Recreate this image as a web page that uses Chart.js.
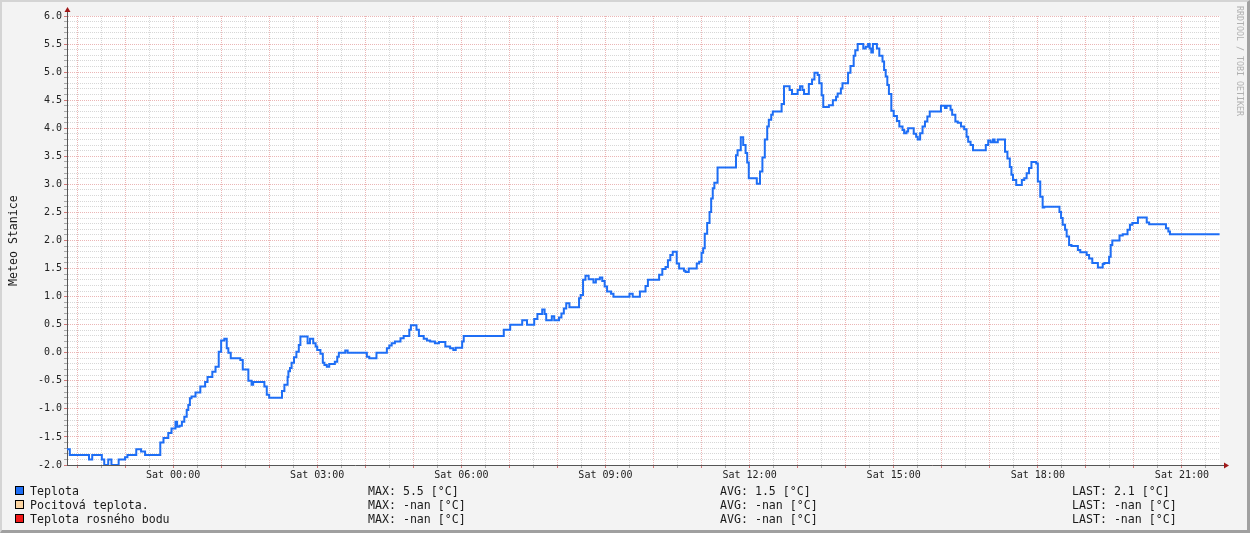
<!DOCTYPE html>
<html>
<head>
<meta charset="utf-8">
<script src="https://cdn.jsdelivr.net/npm/chart.js@4/dist/chart.umd.min.js"></script>
<style>
  html, body { margin: 0; padding: 0; }
  #frame {
    position: relative; width: 1250px; height: 533px; box-sizing: border-box;
    background: #f3f3f3;
    border-top: 2px solid #d4d4d4; border-left: 2px solid #d4d4d4;
    border-right: 3px solid #a0a0a0; border-bottom: 3px solid #a0a0a0;
    font-family: 'DejaVu Sans Mono', monospace; color: #1a1a1a;
  }
  #chart { position: absolute; left: -2px; top: -2px; }
  .ytitle {
    position: absolute; left: -34px; top: 232px; width: 90px; text-align: center;
    font-size: 11.6px; transform: rotate(-90deg); white-space: nowrap;
  }
  .wm {
    position: absolute; left: 1233px; top: 4px; writing-mode: vertical-rl;
    font-size: 8.3px; color: #b0b0b0; white-space: nowrap;
  }
  .lg { position: absolute; font-size: 11.6px; line-height: 14px; white-space: pre; }
  .sw { position: absolute; width: 7px; height: 7px; border: 1px solid #000; }
</style>
</head>
<body>
<div id="frame">
  <canvas id="chart" width="1250" height="533"></canvas>
  <div class="ytitle">Meteo Stanice</div>
  <div class="wm">RRDTOOL / TOBI OETIKER</div>
  <div id="legend"></div>
</div>
<script>
// cas v minutach od Sat 00:00 (zaporne = patek vecer)
const minuty = [
  -133, -129, -105, -101, -89, -86, -81, -77, -68, -60, -57, -46, -40, -35, -16, -12, -6, -2,
  3, 5, 8, 11, 14, 17, 19, 21, 23, 28, 34, 40, 43, 49, 53, 57, 60, 64, 67, 69, 72, 84, 87,
  94, 98, 100, 114, 117, 120, 136, 139, 143, 144, 146, 148, 151, 154, 157, 159, 168, 171,
  175, 178, 180, 184, 187, 189, 192, 195, 202, 205, 207, 215, 218, 242, 245, 254, 267, 270,
  273, 277, 284, 288, 295, 297, 304, 307, 313, 317, 321, 327, 332, 340, 346, 350, 353, 361,
  363, 413, 421, 436, 442, 451, 455, 461, 464, 466, 473, 476, 482, 485, 488, 491, 495, 507,
  509, 512, 515, 519, 525, 528, 533, 536, 539, 542, 547, 550, 570, 574, 583, 590, 593, 607,
  611, 615, 618, 621, 624, 629, 632, 638, 640, 644, 654, 657, 660, 662, 664, 667, 670, 672,
  674, 676, 680, 703, 705, 709, 712, 715, 717, 719, 729, 733, 736, 739, 742, 744, 747, 749,
  760, 763, 770, 773, 780, 783, 786, 788, 794, 798, 801, 805, 807, 810, 812, 819, 824, 828,
  830, 834, 836, 843, 846, 850, 852, 855, 862, 865, 868, 870, 872, 874, 879, 882, 886, 888,
  890, 892, 894, 897, 900, 904, 907, 911, 913, 916, 918, 925, 928, 930, 933, 936, 939, 942,
  945, 959, 964, 966, 971, 973, 977, 980, 984, 988, 991, 993, 996, 999, 1015, 1018, 1021,
  1024, 1026, 1030, 1039, 1042, 1045, 1047, 1049, 1053, 1060, 1063, 1066, 1069, 1072, 1078,
  1080, 1083, 1086, 1088, 1107, 1109, 1111, 1114, 1116, 1119, 1122, 1130, 1133, 1141, 1144,
  1148, 1155, 1161, 1163, 1169, 1171, 1173, 1182, 1186, 1192, 1195, 1198, 1205, 1216, 1219,
  1240, 1243, 1245, 1307
];
const teplota = [
  -1.72, -1.82, -1.9, -1.82, -1.9, -2.0, -1.9, -2.0, -1.9, -1.86, -1.82, -1.72, -1.76, -1.82, -1.6, -1.52, -1.43, -1.35,
  -1.23, -1.32, -1.3, -1.23, -1.14, -1.02, -0.93, -0.81, -0.78, -0.71, -0.6, -0.52, -0.43, -0.34, -0.25, 0.02, 0.22, 0.25, 0.08, 0.0, -0.1, -0.13, -0.3,
  -0.5, -0.57, -0.52, -0.6, -0.75, -0.8, -0.68, -0.57, -0.43, -0.33, -0.27, -0.18, -0.08, 0.02, 0.14, 0.29, 0.17, 0.25,
  0.17, 0.11, 0.05, -0.02, -0.18, -0.22, -0.25, -0.2, -0.16, -0.07, 0.0, 0.04, 0.0, -0.07, -0.1, 0.0, 0.08, 0.13,
  0.17, 0.2, 0.26, 0.3, 0.41, 0.49, 0.41, 0.3, 0.25, 0.22, 0.2, 0.17, 0.19, 0.11, 0.08, 0.05, 0.09, 0.2,
  0.3, 0.41, 0.5, 0.58, 0.5, 0.6, 0.69, 0.77, 0.69, 0.58, 0.65, 0.58, 0.63, 0.7, 0.79, 0.88, 0.81, 0.97,
  1.03, 1.3, 1.37, 1.31, 1.25, 1.31, 1.34, 1.28, 1.18, 1.09, 1.05, 1.0, 1.05, 1.0, 1.09, 1.19, 1.3, 1.39,
  1.49, 1.53, 1.65, 1.74, 1.8, 1.59, 1.5, 1.46, 1.44, 1.5, 1.59, 1.62, 1.78, 1.86, 2.12, 2.31, 2.51, 2.75,
  2.93, 3.03, 3.3, 3.52, 3.61, 3.84, 3.7, 3.56, 3.39, 3.11, 3.01, 3.23, 3.48, 3.8, 4.03, 4.15, 4.24, 4.3,
  4.43, 4.75, 4.68, 4.61, 4.68, 4.75, 4.68, 4.61, 4.79, 4.87, 4.99, 4.95, 4.8, 4.59, 4.38, 4.41, 4.5, 4.56,
  4.62, 4.71, 4.8, 4.99, 5.11, 5.29, 5.39, 5.5, 5.42, 5.45, 5.5, 5.42, 5.35, 5.5, 5.42, 5.29, 5.19, 5.04,
  4.92, 4.77, 4.61, 4.31, 4.22, 4.13, 4.03, 3.97, 3.91, 3.94, 4.0, 3.9, 3.85, 3.8, 3.91, 4.03, 4.12, 4.21,
  4.3, 4.4, 4.36, 4.4, 4.33, 4.24, 4.12, 4.1, 4.03, 3.98, 3.85, 3.76, 3.7, 3.61, 3.7, 3.78, 3.75,
  3.8, 3.75, 3.8, 3.58, 3.46, 3.31, 3.17, 3.08, 2.99, 3.08, 3.11, 3.2, 3.29, 3.4, 3.37,
  3.05, 2.78, 2.59, 2.6, 2.51, 2.4, 2.28, 2.19, 2.07, 1.92, 1.9, 1.83, 1.79, 1.74, 1.68,
  1.6, 1.52, 1.58, 1.6, 1.71, 1.92, 2.0, 2.09, 2.11, 2.19, 2.28, 2.31, 2.41, 2.32, 2.29,
  2.22, 2.16, 2.11, 2.11
];

const xStart = -132.5, xEnd = 1307.5;
const xLabelMinutes = [0, 180, 360, 540, 720, 900, 1080, 1260];
const xLabels = ['Sat 00:00', 'Sat 03:00', 'Sat 06:00', 'Sat 09:00', 'Sat 12:00', 'Sat 15:00', 'Sat 18:00', 'Sat 21:00'];
const yLabels = ['-2.0', '-1.5', '-1.0', '-0.5', '0.0', '0.5', '1.0', '1.5', '2.0', '2.5', '3.0', '3.5', '4.0', '4.5', '5.0', '5.5', '6.0'];

const legendNames = ['Teplota', 'Pocitová teplota.', 'Teplota rosného bodu'];
const legendColors = ['#1e6ef5', '#fcd5a2', '#f01818'];
const legendMax = ['5.5', '-nan', '-nan'];
const legendAvg = ['1.5', '-nan', '-nan'];
const legendLast = ['2.1', '-nan', '-nan'];

// legenda dole
let lg = '';
legendNames.forEach((n, i) => {
  let top = 482 + i * 14;
  lg += `<div class="sw" style="left:13px;top:${top + 2}px;background:${legendColors[i]}"></div>`;
  lg += `<div class="lg" style="left:28px;top:${top}px">${n}</div>`;
  lg += `<div class="lg" style="left:366px;top:${top}px">MAX: ${legendMax[i]} [°C]</div>`;
  lg += `<div class="lg" style="left:718px;top:${top}px">AVG: ${legendAvg[i]} [°C]</div>`;
  lg += `<div class="lg" style="left:1070px;top:${top}px">LAST: ${legendLast[i]} [°C]</div>`;
});
document.getElementById('legend').innerHTML = lg;

const MAJOR = 'rgba(215,110,110,0.5)';
const MINOR = 'rgba(160,160,160,0.42)';

let isMajorY = (v) => Math.abs(Math.round(v * 2) - v * 2) < 1e-6;
let isMajorX = (v) => v % 60 === 0;

// pozadi plochy grafu + sipky na osach
const rrdDecor = {
  id: 'rrdDecor',
  beforeDraw(chart) {
    const a = chart.chartArea, c = chart.ctx;
    c.save();
    c.fillStyle = '#ffffff';
    c.fillRect(a.left, a.top, a.right - a.left, a.bottom - a.top);
    c.restore();
  },
  afterDraw(chart) {
    const a = chart.chartArea, c = chart.ctx;
    c.save();
    c.strokeStyle = '#555';
    c.lineWidth = 1;
    c.beginPath();
    c.moveTo(a.left + 0.5, a.top); c.lineTo(a.left + 0.5, a.top - 4);
    c.moveTo(a.right, a.bottom + 0.5); c.lineTo(a.right + 4, a.bottom + 0.5);
    c.stroke();
    c.fillStyle = '#a01818';
    c.beginPath();
    c.moveTo(a.left + 0.5, a.top - 9); c.lineTo(a.left - 2.5, a.top - 4); c.lineTo(a.left + 3.5, a.top - 4);
    c.closePath(); c.fill();
    c.beginPath();
    c.moveTo(a.right + 9, a.bottom + 0.5); c.lineTo(a.right + 4, a.bottom - 2.5); c.lineTo(a.right + 4, a.bottom + 3.5);
    c.closePath(); c.fill();
    c.restore();
  }
};

Chart.defaults.font.family = "'DejaVu Sans Mono', monospace";
Chart.defaults.font.size = 10;
Chart.defaults.color = '#222';

let ctx = document.getElementById('chart').getContext('2d');
let chart = new Chart(ctx, {
  type: 'line',
  data: {
    datasets: [{
      label: 'Teplota',
      data: minuty.map((m, i) => ({ x: m, y: teplota[i] })),
      borderColor: legendColors[0],
      borderWidth: 2,
      pointRadius: 0,
      stepped: true,
      fill: false
    }]
  },
  options: {
    responsive: false,
    animation: false,
    layout: { padding: { top: 16, right: 30, left: 0, bottom: 0 } },
    plugins: { legend: { display: false }, tooltip: { enabled: false } },
    scales: {
      x: {
        type: 'linear',
        min: xStart,
        max: xEnd,
        afterBuildTicks: (axis) => {
          let t = [];
          for (let m = -120; m < xEnd; m += 30) t.push({ value: m });
          axis.ticks = t;
        },
        afterFit: (s) => { s.height = 68; },
        ticks: {
          autoSkip: false,
          maxRotation: 0,
          padding: 1,
          callback: (v) => {
            let i = xLabelMinutes.indexOf(v);
            return i >= 0 ? xLabels[i] : '';
          }
        },
        grid: {
          color: (c) => isMajorX(c.tick.value) ? MAJOR : MINOR,
          tickColor: (c) => isMajorX(c.tick.value) ? 'rgba(200,90,90,0.8)' : 'rgba(120,120,120,0.6)',
          tickLength: 3,
          lineWidth: 1
        },
        border: { color: '#555', width: 1, dash: [1, 1] }
      },
      y: {
        type: 'linear',
        min: -2,
        max: 6,
        afterBuildTicks: (axis) => {
          let t = [];
          for (let i = -20; i <= 60; i++) t.push({ value: i / 10 });
          axis.ticks = t;
        },
        afterFit: (s) => { s.width = 67; },
        ticks: {
          autoSkip: false,
          padding: 2,
          callback: (v) => isMajorY(v) ? yLabels[Math.round((v + 2) * 2)] : ''
        },
        grid: {
          color: (c) => isMajorY(c.tick.value) ? MAJOR : MINOR,
          tickColor: (c) => isMajorY(c.tick.value) ? 'rgba(200,90,90,0.8)' : 'rgba(120,120,120,0.6)',
          tickLength: 3,
          lineWidth: 1
        },
        border: { color: '#555', width: 1, dash: [1, 1] }
      }
    }
  },
  plugins: [rrdDecor]
});
</script>
</body>
</html>
